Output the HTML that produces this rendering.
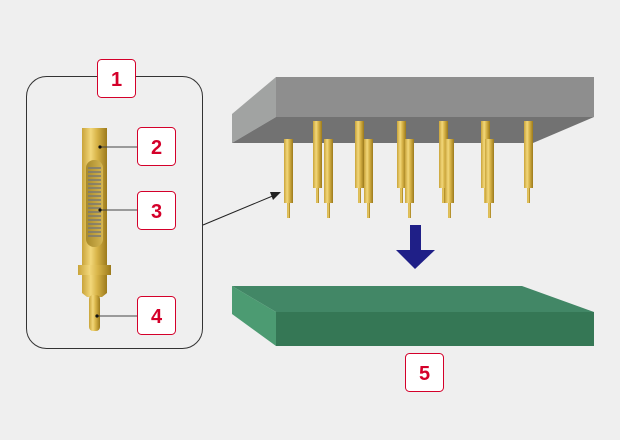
<!DOCTYPE html>
<html><head><meta charset="utf-8"><style>
html,body{margin:0;padding:0;background:#efefef;}
svg{display:block}
text{font-family:"Liberation Sans",sans-serif;font-size:20px;font-weight:bold;fill:#d4002a;text-anchor:middle}
</style></head><body>
<svg width="620" height="440" viewBox="0 0 620 440" xmlns="http://www.w3.org/2000/svg">
<defs>
<linearGradient id="g" x1="0" x2="1" y1="0" y2="0">
<stop offset="0" stop-color="#c9a43a"/><stop offset="0.35" stop-color="#f2d77a"/><stop offset="0.6" stop-color="#d8b448"/><stop offset="1" stop-color="#9c7a1c"/>
</linearGradient>
<linearGradient id="w" x1="0" x2="1"><stop offset="0" stop-color="#a88a2a"/><stop offset="1" stop-color="#d4b552"/></linearGradient>
</defs>
<rect width="620" height="440" fill="#efefef"/>
<rect x="26.5" y="76.5" width="176" height="272" rx="20" fill="none" stroke="#333" stroke-width="1"/>
<line x1="203" y1="225" x2="275" y2="195" stroke="#222" stroke-width="1"/>
<polygon points="281,192 270,192 273,200" fill="#222"/>
<rect x="82" y="128" width="25" height="140" fill="url(#g)"/>
<rect x="86" y="160" width="17" height="87" rx="8" fill="url(#w)"/>
<g stroke="#777" stroke-width="1.5" fill="none">
<path d="M88 168 h13 M88 172 h13 M88 176 h13 M88 180 h13 M88 184 h13 M88 188 h13 M88 192 h13 M88 196 h13 M88 200 h13 M88 204 h13 M88 208 h13 M88 212 h13 M88 216 h13 M88 220 h13 M88 224 h13 M88 228 h13 M88 232 h13 M88 236 h13"/>
</g>
<rect x="78" y="265" width="33" height="10" fill="url(#g)"/>
<path d="M82 275 h25 v18 l-5 4 h-15 l-5 -4z" fill="url(#g)"/>
<rect x="89" y="295" width="11" height="36" rx="4" fill="url(#g)"/>
<g stroke="#444" stroke-width="1"><line x1="100" y1="147" x2="137" y2="147"/><line x1="100" y1="210" x2="137" y2="210"/><line x1="97" y1="316" x2="137" y2="316"/></g>
<circle cx="100" cy="147" r="1.6" fill="#111"/><circle cx="100" cy="210" r="1.6" fill="#111"/><circle cx="97" cy="316" r="1.6" fill="#111"/>
<g fill="#fff" stroke="#d4002a" stroke-width="1">
<rect x="97.5" y="59.5" width="38" height="38" rx="4"/>
<rect x="137.5" y="127.5" width="38" height="38" rx="4"/>
<rect x="137.5" y="191.5" width="38" height="38" rx="4"/>
<rect x="137.5" y="296.5" width="38" height="38" rx="4"/>
<rect x="405.5" y="353.5" width="38" height="38" rx="4"/>
</g>
<text x="116.5" y="86">1</text><text x="156.5" y="154">2</text><text x="156.5" y="218">3</text><text x="156.5" y="323">4</text><text x="424.5" y="380">5</text>
<polygon points="276,77 594,77 594,117 276,117" fill="#8e8e8e"/>
<polygon points="276,77 232,114 232,143 276,117" fill="#a1a3a2"/>
<polygon points="276,117 594,117 533,143 232,143" fill="#727272"/>
<g>
<rect x="313" y="121" width="9" height="67" fill="url(#g)"/><rect x="316" y="188" width="3" height="15" fill="url(#g)"/>
<rect x="355" y="121" width="9" height="67" fill="url(#g)"/><rect x="358" y="188" width="3" height="15" fill="url(#g)"/>
<rect x="397" y="121" width="9" height="67" fill="url(#g)"/><rect x="400" y="188" width="3" height="15" fill="url(#g)"/>
<rect x="439" y="121" width="9" height="67" fill="url(#g)"/><rect x="442" y="188" width="3" height="15" fill="url(#g)"/>
<rect x="481" y="121" width="9" height="67" fill="url(#g)"/><rect x="484" y="188" width="3" height="15" fill="url(#g)"/>
<rect x="524" y="121" width="9" height="67" fill="url(#g)"/><rect x="527" y="188" width="3" height="15" fill="url(#g)"/>
</g>
<g>
<rect x="284" y="139" width="9" height="64" fill="url(#g)"/><rect x="287" y="203" width="3" height="15" fill="url(#g)"/>
<rect x="324" y="139" width="9" height="64" fill="url(#g)"/><rect x="327" y="203" width="3" height="15" fill="url(#g)"/>
<rect x="364" y="139" width="9" height="64" fill="url(#g)"/><rect x="367" y="203" width="3" height="15" fill="url(#g)"/>
<rect x="405" y="139" width="9" height="64" fill="url(#g)"/><rect x="408" y="203" width="3" height="15" fill="url(#g)"/>
<rect x="445" y="139" width="9" height="64" fill="url(#g)"/><rect x="448" y="203" width="3" height="15" fill="url(#g)"/>
<rect x="485" y="139" width="9" height="64" fill="url(#g)"/><rect x="488" y="203" width="3" height="15" fill="url(#g)"/>
</g>
<rect x="410" y="225" width="11" height="26" fill="#1f1f87"/>
<polygon points="396,250 435,250 415,269" fill="#1f1f87"/>
<polygon points="232,286 522,286 594,312 276,312" fill="#428766"/>
<polygon points="232,286 276,312 276,346 232,314" fill="#4c9b72"/>
<rect x="276" y="312" width="318" height="34" fill="#357755"/>
</svg>
</body></html>
